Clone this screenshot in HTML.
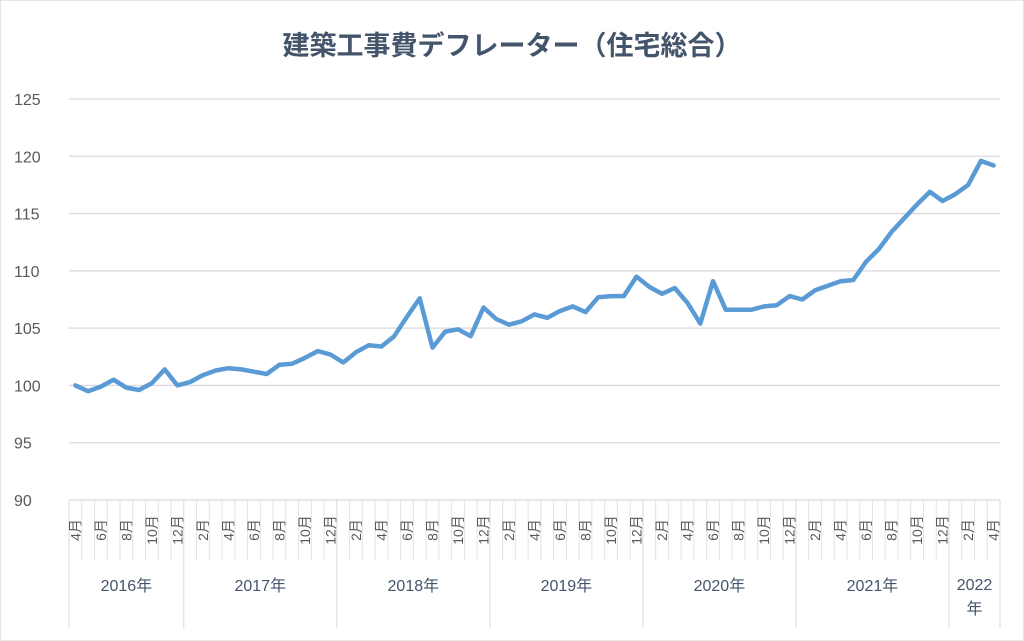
<!DOCTYPE html>
<html><head><meta charset="utf-8"><style>
body{margin:0;background:#fff;}
svg{display:block;font-family:"Liberation Sans","Noto Sans CJK JP",sans-serif;}
</style></head><body>
<svg id="c" width="1024" height="641">
<rect x="0.5" y="0.5" width="1023" height="640" fill="#fff" stroke="#e6e6e6"/>
<text x="512" y="55" text-anchor="middle" font-size="27" font-weight="bold" fill="#44546a">建築工事費デフレーター（住宅総合）</text>
<g id="grid"></g><g id="xaxis"></g><g id="series"></g>
</svg>
<script>
const years=["2016年","2017年","2018年","2019年","2020年","2021年","2022年"];
const yearMonths=[9,12,12,12,12,12,4];
const startMonth=4;
const yTicks=[90,95,100,105,110,115,120,125];
const values=[100,99.5,99.9,100.5,99.8,99.6,100.2,101.4,100.0,
100.3,100.9,101.3,101.5,101.4,101.2,101.0,101.8,101.9,102.4,103.0,102.7,
102.0,102.9,103.5,103.4,104.3,106.0,107.6,103.3,104.7,104.9,104.3,106.8,
105.8,105.3,105.6,106.2,105.9,106.5,106.9,106.4,107.7,107.8,107.8,109.5,
108.6,108.0,108.5,107.2,105.4,109.1,106.6,106.6,106.6,106.9,107.0,107.8,
107.5,108.3,108.7,109.1,109.2,110.8,111.9,113.4,114.6,115.8,116.9,116.1,
116.7,117.5,119.6,119.2];
const NS="http://www.w3.org/2000/svg";
const L=69,R=1000,T=99,B=500,yMin=90,yMax=125;
const n=values.length,bw=(R-L)/n;
const x=i=>L+bw*(i+0.5);
const y=v=>B-(v-yMin)/(yMax-yMin)*(B-T);
function mk(tag,attrs,parent,txt){const e=document.createElementNS(NS,tag);for(const k in attrs)e.setAttribute(k,attrs[k]);if(txt!=null)e.textContent=txt;parent.appendChild(e);return e;}
const grid=document.getElementById('grid');
yTicks.forEach(t=>{
 const ln=mk('line',{x1:L,x2:R,y1:y(t),y2:y(t),stroke:'#d9d9e0','stroke-width':1.3},grid);
 
 
 const tx=mk('text',{x:14,y:y(t)+6,'font-size':16,fill:'#595959'},grid,String(t));
 
 
});
const xa=document.getElementById('xaxis');
let idx=0;
years.forEach((yr,k)=>{
 const start=idx,cnt=yearMonths[k];
 const d=mk('line',{x1:L+bw*start,x2:L+bw*start,y1:B,y2:628,stroke:'#d9d9e0','stroke-width':1},xa);
 
 
 for(let j=0;j<cnt;j++){
  const i=idx+j;const m=((startMonth-1+i)%12)+1;
  if(j>0){const tl=mk('line',{x1:L+bw*i,x2:L+bw*i,y1:B,y2:560,stroke:'#e3e3e8','stroke-width':1},xa);
   
   }
  if(m%2===0){const cx=x(i)+5,cy=530;
   const t=mk('text',{x:cx,y:cy,'font-size':14,fill:'#595959','text-anchor':'middle',transform:`rotate(-90 ${cx} ${cy})`},xa,m+'月');
   
   }
 }
 idx+=cnt;
 const cx=L+bw*(start+cnt/2);
 if(k===years.length-1){
  const t1=mk('text',{x:cx,y:590,'font-size':16,fill:'#44546a','text-anchor':'middle'},xa,yr.slice(0,4));
  
  
  const t2=mk('text',{x:cx,y:614,'font-size':16,fill:'#44546a','text-anchor':'middle'},xa,'年');
  
  
 } else {
  const t=mk('text',{x:cx,y:591,'font-size':16,fill:'#44546a','text-anchor':'middle'},xa,yr);
  
  
 }
});
const e=mk('line',{x1:R,x2:R,y1:B,y2:628,stroke:'#d9d9e0','stroke-width':1},xa);


const pts=values.map((v,i)=>x(i).toFixed(1)+','+y(v).toFixed(1)).join(' ');
const pl=mk('polyline',{points:pts,fill:'none',stroke:'#5b9bd5','stroke-width':4.5,'stroke-linejoin':'round','stroke-linecap':'round'},document.getElementById('series'));


</script>
</body></html>
